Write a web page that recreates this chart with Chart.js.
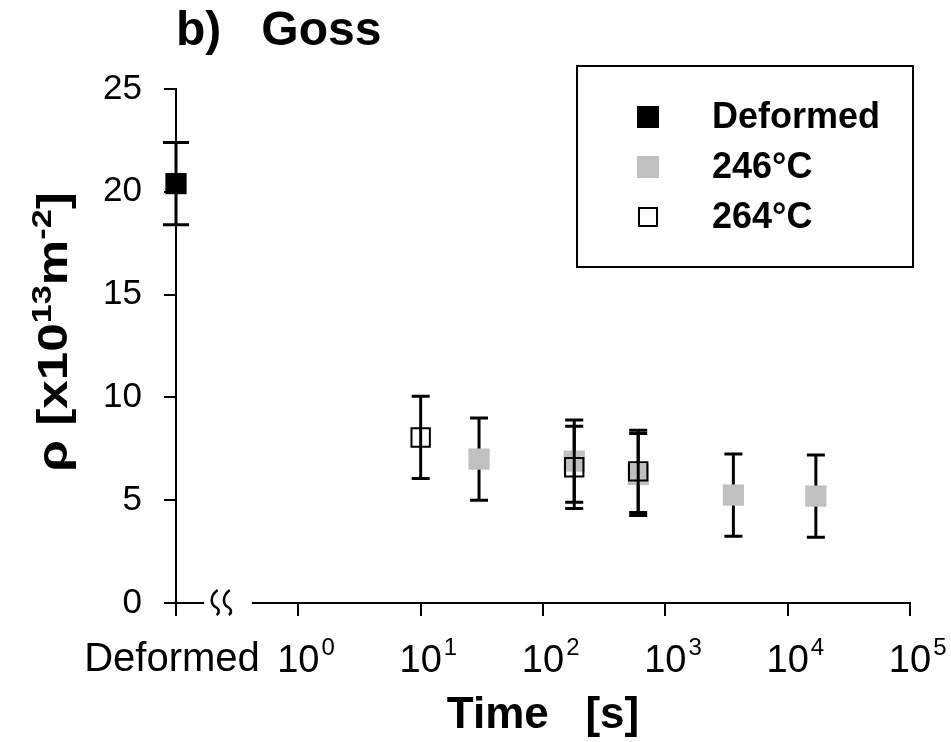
<!DOCTYPE html>
<html>
<head>
<meta charset="utf-8">
<script src="https://cdn.jsdelivr.net/npm/chart.js@4.4.1/dist/chart.umd.min.js"></script>
<style>
html, body { margin: 0; padding: 0; background: #fff; }
#wrap { width: 951px; height: 742px; position: relative; }
</style>
</head>
<body>
<div id="wrap"><canvas id="chart-area"></canvas></div>
<script>
// time axis ticks, 0.1 stands for the "Deformed" column
var xTicks = [0.1, 1, 10, 100, 1000, 10000, 100000];
var yTicks = [0, 5, 10, 15, 20, 25];

var deformedTime = [0.1];
var deformedRho = [20.4];
var deformedErr = [2.0];

var time246 = [30, 180, 600, 3600, 17000];
var rho246 = [7.0, 6.9, 6.25, 5.25, 5.2];
var err246 = [2.0, 2.0, 2.0, 2.0, 2.0];

var time264 = [10, 180, 600];
var rho264 = [8.05, 6.6, 6.4];
var err264 = [2.0, 2.0, 2.0];

var FONT = '"Liberation Sans", Arial, sans-serif';
var GREY = '#c0c0c0';

function toPoints(xs, ys) {
    var pts = [];
    for (var i = 0; i < xs.length; i++) {
        pts.push({ x: xs[i], y: ys[i] });
    }
    return pts;
}

// vertical error bars, drawn just before each dataset's squares
var errorBars = {
    id: 'errorBars',
    beforeDatasetDraw: function (chart, args) {
        var ds = chart.data.datasets[args.index];
        if (!ds.yErr) return;
        var xScale = chart.scales.x;
        var yScale = chart.scales.y;
        var ctx = chart.ctx;
        var half = ds.capWidth / 2;
        ctx.save();
        ctx.strokeStyle = '#000';
        ctx.lineWidth = 3;
        for (var i = 0; i < ds.data.length; i++) {
            var px = xScale.getPixelForValue(ds.data[i].x);
            var top = yScale.getPixelForValue(ds.data[i].y + ds.yErr[i]);
            var bot = yScale.getPixelForValue(ds.data[i].y - ds.yErr[i]);
            ctx.beginPath();
            ctx.moveTo(px, top);
            ctx.lineTo(px, bot);
            ctx.moveTo(px - half, top);
            ctx.lineTo(px + half, top);
            ctx.moveTo(px - half, bot);
            ctx.lineTo(px + half, bot);
            ctx.stroke();
        }
        ctx.restore();
    }
};

function drawYTitle(ctx, cx, cy) {
    var big = 'bold 42px ' + FONT;
    var small = 'bold 28px ' + FONT;
    var parts = [
        { t: '\u03c1 [x10', f: big, dy: 0 },
        { t: '13', f: small, dy: -16 },
        { t: 'm', f: big, dy: 0 },
        { t: '-2', f: small, dy: -16 },
        { t: ']', f: big, dy: 0 }
    ];
    var stretch = 1.22;
    var total = 0;
    for (var i = 0; i < parts.length; i++) {
        ctx.font = parts[i].f;
        parts[i].w = ctx.measureText(parts[i].t).width;
        total += parts[i].w;
    }
    ctx.save();
    ctx.translate(cx, cy);
    ctx.rotate(-Math.PI / 2);
    ctx.scale(stretch, 1);
    ctx.fillStyle = '#000';
    ctx.textAlign = 'left';
    ctx.textBaseline = 'alphabetic';
    var x = -total / 2;
    for (var j = 0; j < parts.length; j++) {
        ctx.font = parts[j].f;
        ctx.fillText(parts[j].t, x, 15 + parts[j].dy);
        x += parts[j].w;
    }
    ctx.restore();
}

var decorations = {
    id: 'decorations',
    afterDraw: function (chart) {
        var ctx = chart.ctx;
        var xScale = chart.scales.x;
        var axisY = chart.chartArea.bottom;

        // axis break between "Deformed" and 10^0
        var gapL = xScale.getPixelForValue(Math.pow(10, -0.77));
        var gapR = xScale.getPixelForValue(Math.pow(10, -0.38));
        ctx.save();
        ctx.fillStyle = '#fff';
        ctx.fillRect(gapL, axisY - 4, gapR - gapL, 8);
        ctx.strokeStyle = '#000';
        ctx.lineWidth = 2.5;
        [-0.66, -0.56].forEach(function (e) {
            var cx = xScale.getPixelForValue(Math.pow(10, e));
            ctx.beginPath();
            ctx.moveTo(cx, axisY - 13);
            ctx.bezierCurveTo(cx - 9, axisY - 6, cx - 6, axisY + 2, cx - 2, axisY + 4);
            ctx.bezierCurveTo(cx + 2, axisY + 6, cx + 2, axisY + 10, cx - 1, axisY + 12);
            ctx.stroke();
        });

        // x tick labels with superscript exponents
        ctx.fillStyle = '#000';
        ctx.textBaseline = 'alphabetic';
        xScale.ticks.forEach(function (tick) {
            var px = xScale.getPixelForValue(tick.value);
            if (tick.value === xTicks[0]) {
                ctx.font = '40px ' + FONT;
                ctx.textAlign = 'center';
                ctx.fillText('Deformed', px - 4, 671);
            } else {
                var exp = Math.round(Math.log10(tick.value));
                ctx.font = '38px ' + FONT;
                ctx.textAlign = 'center';
                ctx.fillText('10', px, 672);
                var w = ctx.measureText('10').width;
                ctx.font = '24px ' + FONT;
                ctx.textAlign = 'left';
                ctx.fillText(String(exp), px + w / 2 + 2, 655);
            }
        });

        drawYTitle(ctx, 52, 332);

        // legend box in the upper right of the plot
        var box = { left: 577, top: 66, width: 336, height: 201 };
        ctx.lineWidth = 2;
        ctx.strokeStyle = '#000';
        ctx.strokeRect(box.left, box.top, box.width, box.height);
        var rows = [117, 167, 217];
        chart.data.datasets.forEach(function (ds, i) {
            var cy = rows[i];
            if (ds.borderWidth > 0) {
                ctx.lineWidth = 2;
                ctx.strokeStyle = ds.borderColor;
                ctx.strokeRect(639, cy - 9, 18, 18);
            } else {
                ctx.fillStyle = ds.backgroundColor;
                ctx.fillRect(637, cy - 11, 22, 22);
            }
            ctx.fillStyle = '#000';
            ctx.font = 'bold 36px ' + FONT;
            ctx.textAlign = 'left';
            ctx.textBaseline = 'middle';
            ctx.fillText(ds.label, 712, cy + 1);
        });
        ctx.restore();
    }
};

var config = {
    type: 'scatter',
    data: {
        datasets: [{
            label: 'Deformed',
            data: toPoints(deformedTime, deformedRho),
            yErr: deformedErr,
            capWidth: 26,
            clip: false,
            pointStyle: 'rect',
            pointRadius: 15,
            pointHoverRadius: 15,
            backgroundColor: '#000',
            borderColor: '#000',
            borderWidth: 0,
            order: 0
        }, {
            label: '246\u00b0C',
            data: toPoints(time246, rho246),
            yErr: err246,
            capWidth: 18,
            clip: false,
            pointStyle: 'rect',
            pointRadius: 15,
            pointHoverRadius: 15,
            backgroundColor: GREY,
            borderColor: GREY,
            borderWidth: 0,
            order: 2
        }, {
            label: '264\u00b0C',
            data: toPoints(time264, rho264),
            yErr: err264,
            capWidth: 18,
            clip: false,
            pointStyle: 'rect',
            pointRadius: 13,
            pointHoverRadius: 13,
            backgroundColor: 'rgba(0,0,0,0)',
            borderColor: '#000',
            borderWidth: 2,
            order: 1
        }]
    },
    options: {
        responsive: true,
        maintainAspectRatio: false,
        animation: false,
        layout: { padding: { left: 0, right: 41, top: 0, bottom: 0 } },
        plugins: {
            legend: { display: false },
            tooltip: { enabled: false },
            title: {
                display: true,
                text: 'b)   Goss',
                align: 'start',
                fullSize: false,
                color: '#000',
                font: { family: FONT, size: 48, weight: 'bold', lineHeight: 1 },
                padding: { top: 8, bottom: 33 }
            }
        },
        scales: {
            x: {
                type: 'logarithmic',
                min: xTicks[0],
                max: xTicks[xTicks.length - 1],
                afterBuildTicks: function (scale) {
                    scale.ticks = xTicks.map(function (v) { return { value: v }; });
                },
                afterFit: function (scale) { scale.height = 139; },
                ticks: { display: false },
                grid: {
                    display: true,
                    drawOnChartArea: false,
                    drawTicks: true,
                    tickLength: 13,
                    color: '#000',
                    lineWidth: 2
                },
                border: { display: true, color: '#000', width: 2 },
                title: {
                    display: true,
                    text: 'Time   [s]',
                    color: '#000',
                    font: { family: FONT, size: 44, weight: 'bold', lineHeight: 1 },
                    padding: { top: 0, bottom: 4 }
                }
            },
            y: {
                min: yTicks[0],
                max: yTicks[yTicks.length - 1],
                afterBuildTicks: function (scale) {
                    scale.ticks = yTicks.map(function (v) { return { value: v }; });
                },
                afterFit: function (scale) { scale.width = 176; },
                ticks: {
                    color: '#000',
                    padding: 22,
                    font: { family: FONT, size: 35 }
                },
                grid: {
                    display: true,
                    drawOnChartArea: false,
                    drawTicks: true,
                    tickLength: 12,
                    color: '#000',
                    lineWidth: 2
                },
                border: { display: true, color: '#000', width: 2 }
            }
        }
    },
    plugins: [errorBars, decorations]
};

var ctx = document.getElementById('chart-area').getContext('2d');
window.myScatter = new Chart(ctx, config);
</script>
</body>
</html>
